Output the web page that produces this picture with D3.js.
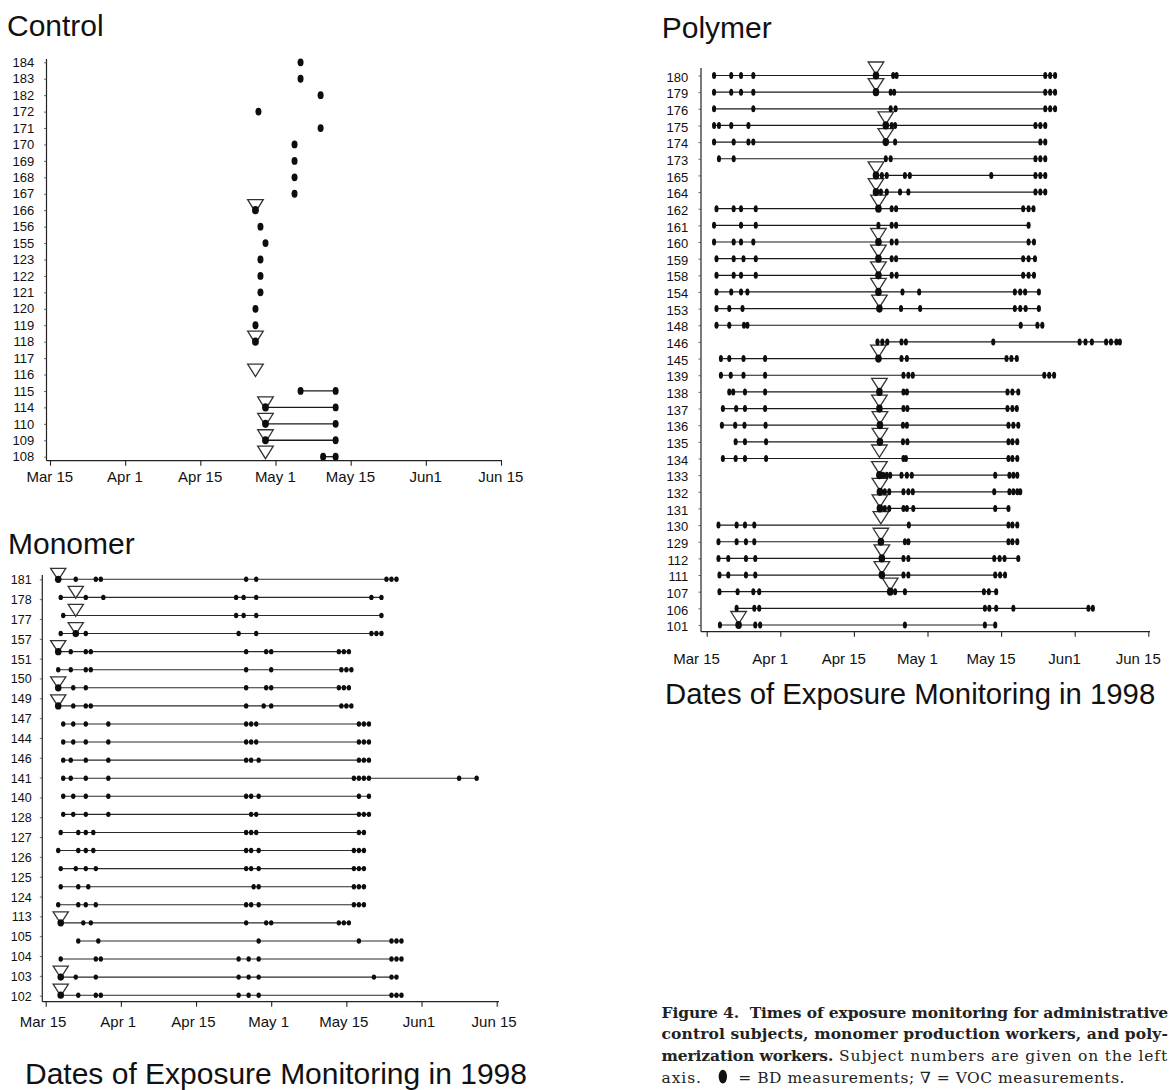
<!DOCTYPE html>
<html>
<head>
<meta charset="utf-8">
<script src="https://cdn.jsdelivr.net/npm/d3@7"></script>
<style>
  html, body { margin: 0; padding: 0; background: #fff; }
  svg { display: block; }
</style>
</head>
<body>
<svg id="fig" width="1172" height="1090"></svg>
<script>
// Shared date axis: day of year 1998, one tick every 15 days
const xTickDays   = [75, 90, 105, 120, 135, 150, 165];
const xTickLabels = ["Mar 15", "Apr 1", "Apr 15", "May 1", "May 15", "Jun1", "Jun 15"];

// Control subjects (administrative staff)
const controlSubjects = ["184","183","182","172","171","170","169","168","167","166","156","155",
  "123","122","121","120","119","118","117","116","115","114","110","109","108"];
const controlBD = [
  [125], [125], [129], [116.6], [129], [123.8], [123.8], [123.8], [123.8], [116], [117], [118],
  [117], [117], [117], [116], [116], [116], [], [], [125, 132], [118, 132], [118, 132], [118, 132], [129.5, 132]
];
const controlVOC = [
  [], [], [], [], [], [], [], [], [], [116], [], [],
  [], [], [], [], [], [116], [], [116], [], [118], [118], [118], [118]
];

// Monomer production workers (axis carries 22 subject labels over 24 monitoring rows)
const monomerSubjects = ["181","178","177","157","151","150","149","147","144","146","141","140",
  "128","127","126","125","124","113","105","104","103","102"];
const monomerBD = [
  [77.5, 81, 85, 86, 115, 117, 143, 144, 145],
  [78, 83, 86.5, 113, 114.5, 117, 140, 142],
  [78.5, 113, 114.5, 117, 142],
  [78, 81, 83, 113.5, 117, 140, 141, 142],
  [77.5, 80, 83, 84, 115, 119, 120, 133.5, 134.5, 135.5],
  [77.5, 80, 83, 84, 115, 120, 134, 135, 136],
  [77.5, 80.5, 83, 115, 119, 120, 133.5, 134.5, 135.5],
  [77.5, 80.5, 83, 84, 115, 118.5, 120, 134, 135, 136],
  [78.5, 80.5, 83, 87.5, 115, 116, 117, 137.5, 138.5, 139.5],
  [78.5, 80.5, 83, 87.5, 115, 116, 117, 137.5, 138.5, 139.5],
  [78.5, 80, 83, 87.5, 115, 116, 117.5, 137.5, 138.5, 139.5],
  [78.5, 80, 83, 87.5, 136.5, 137.5, 138.5, 139.5, 157.5, 161],
  [78.5, 80.5, 83, 87.5, 115, 116, 117.5, 137.5, 139.5],
  [78.5, 80.5, 83, 87.5, 116, 117, 137.5, 138.5, 139.5],
  [78, 81.5, 83, 84.5, 115, 116, 117, 137.5, 138.5],
  [77.5, 81.5, 83, 84.5, 115, 116, 117.5, 136.5, 137.5, 138.5],
  [78, 81, 83, 85, 115, 116, 117.5, 136.5, 137.5, 138.5],
  [78, 81.5, 83.5, 116.5, 117.5, 136.5, 137.5, 138.5],
  [77.5, 81.5, 83, 85, 115, 116, 117.5, 136.5, 137.5, 138.5],
  [78, 82.5, 84, 115, 119, 120, 133.5, 134.5, 135.5],
  [81.5, 85.5, 117.5, 137.5, 144, 145, 146],
  [78, 85, 86, 113.5, 115.5, 117.5, 144, 145, 146],
  [78, 81, 85, 113.5, 115.5, 117.5, 140.5, 144, 145],
  [78, 81.5, 85, 86, 113.5, 115.5, 117.5, 144, 145, 146]
];
const monomerVOC = [
  [77.5], [81], [81], [81], [77.5], [], [77.5], [77.5], [], [], [], [],
  [], [], [], [], [], [], [], [78], [], [], [78], [78]
];

// Polymerization workers
const polymerSubjects = ["180","179","176","175","174","173","165","164","162","161","160","159",
  "158","154","153","148","146","145","139","138","137","136","135","134","133","132","131",
  "130","129","112","111","107","106","101"];
const polymerBD = [
  [76.5, 80, 82, 84.5, 109.5, 113, 113.7, 144, 145, 146],
  [76.5, 80, 82, 84.5, 109.5, 112.5, 113.2, 144, 145, 146],
  [76.5, 84.5, 112.5, 113.5, 144, 145, 146],
  [76.5, 77.5, 80, 83.5, 111.5, 112.7, 113.4, 142, 143, 144],
  [76.5, 80.5, 83.5, 84.5, 111.5, 113.4, 143, 144],
  [77.5, 80.5, 111.5, 112.5, 142, 143, 144],
  [109.5, 110.7, 111.7, 115.4, 116.4, 133, 142, 143, 144],
  [109.5, 110.5, 111.7, 114.4, 116.1, 142, 143, 144],
  [77, 80.5, 82, 85, 110, 112.7, 113.6, 139.5, 140.6, 141.6],
  [76.5, 82, 85, 110, 112.7, 113.6, 140.6],
  [76.5, 80.5, 82, 84.5, 110, 112.7, 113.7, 140.6, 141.7],
  [77, 80.5, 82.5, 85, 110, 112.7, 113.6, 139.5, 140.6, 141.9],
  [77, 80.5, 82, 85, 110, 112.7, 113.7, 139.5, 140.6, 141.7],
  [77, 80, 82, 83.3, 110, 114.9, 118.3, 137.8, 138.9, 139.9, 142.7],
  [77, 79.6, 82.3, 110.2, 114.6, 118.5, 137.8, 138.9, 140, 142.7],
  [77, 79.6, 82.6, 83.3, 139, 142.4, 143.4],
  [109.8, 110.8, 111.8, 114.7, 115.6, 133.4, 151, 152.2, 153.5, 156.4, 157.4, 158.5, 159.2],
  [77.9, 79.6, 82.5, 86.9, 110, 114.7, 115.8, 136.1, 137.1, 138.2],
  [77.9, 79.9, 82.5, 86.9, 115.1, 116.1, 117, 143.8, 144.8, 145.8],
  [79.6, 80.4, 82.8, 86.9, 110.2, 115.1, 115.8, 136.3, 137.3, 138.5],
  [78.3, 81, 82.8, 86.9, 110.2, 115.1, 115.9, 136.3, 137.3, 138.2],
  [78.1, 80.8, 82.7, 87, 110.3, 115, 115.8, 136.5, 137.5, 138.5],
  [80.9, 82.8, 87.1, 110.3, 115, 115.9, 136.5, 137.3, 138.3],
  [78.3, 80.9, 82.8, 87.1, 115.1, 115.6, 136.5, 137.3, 138.3],
  [110.2, 111, 111.7, 112.4, 114.7, 115.8, 116.8, 133.8, 136.7, 137.5, 138.3],
  [110.3, 111.3, 112.2, 115.1, 116.1, 117, 133.6, 136.7, 137.5, 138.3, 138.9],
  [110.3, 111.3, 112.2, 115.1, 115.8, 117.1, 133.8, 136.5],
  [77.4, 81.1, 82.8, 84.7, 116.2, 136.5, 137.3, 138.3],
  [77.4, 81.1, 83, 84.7, 110.5, 115.4, 116.1, 136.5, 137.3, 138.3],
  [77.4, 79.4, 83, 84.9, 110.7, 115.1, 116.1, 133.6, 134.7, 135.7, 138.5],
  [77.6, 79.4, 83, 84.9, 110.7, 115.1, 116.1, 133.8, 134.8, 135.8],
  [77.6, 81.3, 84.5, 85.7, 112.4, 113.4, 115.4, 131.5, 132.5, 134],
  [81.1, 84.7, 85.7, 131.7, 132.6, 134, 137.5, 152.8, 153.7],
  [77.7, 81.5, 84.9, 85.9, 115.4, 131.7, 133.8]
];
const polymerVOC = [
  [109.5], [109.5], [], [111.5], [111.5], [], [109.5], [109.5], [110], [], [110], [110],
  [110], [110], [110.2], [], [], [110], [], [110.2], [110.2], [110.3], [110.3], [110.2], [110.2], [110.3], [110.3],
  [110.5], [110.5], [110.7], [110.7], [112.4], [], [81.5]
];

const axisTitle = "Dates of Exposure Monitoring in 1998";

// Caption, as runs of bold / regular text
const captionLines = [
  [["Figure 4.\u00a0 Times of exposure monitoring for administrative", true]],
  [["control subjects, monomer production workers, and poly-", true]],
  [["merization workers.", true], [" Subject numbers are given on the left", false]]
];
const captionLegendHead = "axis.";
const captionLegendTail = "= BD measurements; \u2207 = VOC measurements.";

// ---------------------------------------------------------------------------
const SANS = "'Liberation Sans', Arial, Helvetica, sans-serif";
const SERIF = "'DejaVu Serif', serif";
const INK = "#111";

const svg = d3.select("#fig");

const panels = [
  {
    title: "Control", subjects: controlSubjects, bd: controlBD, voc: controlVOC,
    titleX: 7, titleY: 36,
    yAxisX: 46.5, yAxisTop: 59, xAxisY: 460.7, xAxisEnd: 502,
    startX: 50, endX: 501,
    rowTop: 62.3, rowBottom: 456.7,
    labelGap: 12.2, labelSize: 13, labelDy: 0,
    xLabelPad: 5.2, xLabelDx: -0.7,
    dot: [3.0, 3.9], bigDot: [3.4, 4.1], triW: 7.8, triTop: 10.5, triTip: 2,
    lineColor: "#1a1a1a", lineWidth: 1.3
  },
  {
    title: "Monomer", subjects: monomerSubjects, bd: monomerBD, voc: monomerVOC,
    titleX: 8, titleY: 554.3,
    yAxisX: 42.3, yAxisTop: 575, xAxisY: 1001.7, xAxisEnd: 499,
    startX: 45.7, endX: 496.7,
    rowTop: 579.3, rowBottom: 995.2, labelTop: 579.3, labelBottom: 995.7,
    labelGap: 10.6, labelSize: 12.5, labelDy: 0.5,
    xLabelPad: 9.9, xLabelDx: -3.1,
    dot: [2.2, 2.7], bigDot: [3.3, 3.6], triW: 7.6, triTop: 11, triTip: 0.8,
    lineColor: "#2a2a2a", lineWidth: 1.05,
    footer: { x: 25, y: 1083.5, size: 30 }
  },
  {
    title: "Polymer", subjects: polymerSubjects, bd: polymerBD, voc: polymerVOC,
    titleX: 661.7, titleY: 38.3,
    yAxisX: 701, yAxisTop: 68, xAxisY: 631.7, xAxisEnd: 1150,
    startX: 706.7, endX: 1148.3,
    rowTop: 75.5, rowBottom: 625,
    labelGap: 12.7, labelSize: 13, labelDy: 1.5,
    xLabelPad: 17, xLabelDx: -10.6,
    dot: [2.05, 3.5], bigDot: [3.3, 4.1], triW: 7.8, triTop: 13.5, triTip: -1.2,
    lineColor: "#1a1a1a", lineWidth: 1.2,
    footer: { x: 665, y: 704, size: 29.3 }
  }
];

function drawPanel(p) {
  const g = svg.append("g");

  const x = d3.scaleLinear()
    .domain([xTickDays[0], xTickDays[xTickDays.length - 1]])
    .range([p.startX, p.endX]);
  const y = d3.scalePoint()
    .domain(d3.range(p.bd.length))
    .range([p.rowTop, p.rowBottom]);
  const yLabel = d3.scalePoint()
    .domain(p.subjects)
    .range([p.labelTop ?? p.rowTop, p.labelBottom ?? p.rowBottom]);

  // panel heading
  g.append("text")
    .attr("x", p.titleX).attr("y", p.titleY)
    .attr("font-family", SANS).attr("font-size", 30)
    .attr("fill", INK)
    .text(p.title);

  // axis lines
  g.append("line")
    .attr("x1", p.yAxisX).attr("x2", p.yAxisX)
    .attr("y1", p.yAxisTop).attr("y2", p.xAxisY)
    .attr("stroke", "#222").attr("stroke-width", 1.2);
  g.append("line")
    .attr("x1", p.yAxisX).attr("x2", p.xAxisEnd)
    .attr("y1", p.xAxisY).attr("y2", p.xAxisY)
    .attr("stroke", "#222").attr("stroke-width", 1.2);

  // date ticks
  const gx = g.append("g")
    .attr("transform", `translate(0,${p.xAxisY})`)
    .call(d3.axisBottom(x)
      .tickValues(xTickDays)
      .tickFormat((d, i) => xTickLabels[i])
      .tickSize(5).tickSizeOuter(0).tickPadding(p.xLabelPad));
  gx.select(".domain").remove();
  gx.attr("font-family", SANS).attr("font-size", 15).attr("color", INK);
  gx.selectAll(".tick line").attr("stroke", "#222").attr("stroke-width", 1.1);
  gx.selectAll(".tick text").attr("dx", p.xLabelDx);

  // subject numbers
  const gy = g.append("g")
    .attr("transform", `translate(${p.yAxisX},0)`)
    .call(d3.axisLeft(yLabel).tickSize(2.5).tickSizeOuter(0).tickPadding(p.labelGap - 2.5));
  gy.select(".domain").remove();
  gy.attr("font-family", SANS).attr("font-size", p.labelSize).attr("color", INK);
  gy.selectAll(".tick line").attr("stroke", "#444").attr("stroke-width", 0.8);
  gy.selectAll(".tick text").attr("transform", `translate(0,${p.labelDy})`);

  const rows = p.bd.map((days, i) => ({ i, days, voc: p.voc[i] || [] }));

  // span from first to last BD measurement
  g.append("g").selectAll("line")
    .data(rows.filter(r => r.days.length > 1))
    .join("line")
    .attr("x1", r => x(d3.min(r.days)))
    .attr("x2", r => x(d3.max(r.days)))
    .attr("y1", r => y(r.i)).attr("y2", r => y(r.i))
    .attr("stroke", p.lineColor).attr("stroke-width", p.lineWidth);

  // VOC measurements: open downward triangles
  const tri = rows.flatMap(r => r.voc.map(d => ({ d, i: r.i })));
  g.append("g").selectAll("path")
    .data(tri)
    .join("path")
    .attr("d", t => {
      const cx = x(t.d), cy = y(t.i);
      return `M${cx - p.triW},${cy - p.triTop}L${cx + p.triW},${cy - p.triTop}L${cx},${cy + p.triTip}Z`;
    })
    .attr("fill", "#fff")
    .attr("stroke", "#333").attr("stroke-width", 1.3)
    .attr("stroke-linejoin", "miter");

  // BD measurements: filled ellipses (larger where a VOC sample shares the day)
  const dots = rows.flatMap(r => r.days.map(d => ({ d, i: r.i, big: r.voc.includes(d) })));
  g.append("g").selectAll("ellipse")
    .data(dots)
    .join("ellipse")
    .attr("cx", o => x(o.d))
    .attr("cy", o => y(o.i))
    .attr("rx", o => (o.big ? p.bigDot : p.dot)[0])
    .attr("ry", o => (o.big ? p.bigDot : p.dot)[1])
    .attr("fill", "#0d0d0d");

  if (p.footer) {
    g.append("text")
      .attr("x", p.footer.x).attr("y", p.footer.y)
      .attr("font-family", SANS).attr("font-size", p.footer.size)
      .attr("fill", INK)
      .text(axisTitle);
  }
}

panels.forEach(drawPanel);

// ---------------------------------------------------------------------------
// Caption: each line is spaced out to run to the right margin
const cap = svg.append("g")
  .attr("font-family", SERIF).attr("font-size", 15.5).attr("fill", "#222");
const capX = 661.5, capY0 = 1017.5, capLead = 21.7, capRight = 1168;
let boldSpacing = 0.2;

captionLines.forEach((runs, li) => {
  const t = cap.append("text")
    .attr("x", capX).attr("y", capY0 + li * capLead)
    .attr("xml:space", "preserve");
  const spans = runs.map(([s, bold]) =>
    t.append("tspan").attr("font-weight", bold ? "bold" : "normal").text(s));

  if (runs.length === 1) {
    const natural = spans[0].node().getComputedTextLength();
    const ls = (capRight - capX - natural) / runs[0][0].length;
    spans[0].attr("letter-spacing", ls);
    if (li === 0) boldSpacing = ls;
  } else {
    spans[0].attr("letter-spacing", boldSpacing);
    const boldW = spans[0].node().getComputedTextLength();
    const regNatural = spans[1].node().getComputedTextLength();
    const ls = (capRight - capX - boldW - regNatural) / runs[1][0].length;
    spans[1].attr("letter-spacing", ls);
  }
});

// legend line: "axis. (BD symbol) = BD measurements; ∇ = VOC measurements."
const legendY = capY0 + 3 * capLead;
const head = cap.append("text")
  .attr("x", capX).attr("y", legendY)
  .attr("letter-spacing", 0.9)
  .text(captionLegendHead);
const symX = capX + head.node().getComputedTextLength() + 21;
cap.append("ellipse")
  .attr("cx", symX).attr("cy", legendY - 6)
  .attr("rx", 4.2).attr("ry", 6.8)
  .attr("fill", "#111");
const tail = cap.append("text")
  .attr("x", symX + 15.5).attr("y", legendY)
  .text(captionLegendTail);
const tailNatural = tail.node().getComputedTextLength();
tail.attr("letter-spacing", (1125 - (symX + 15.5) - tailNatural) / captionLegendTail.length);
</script>
</body>
</html>
